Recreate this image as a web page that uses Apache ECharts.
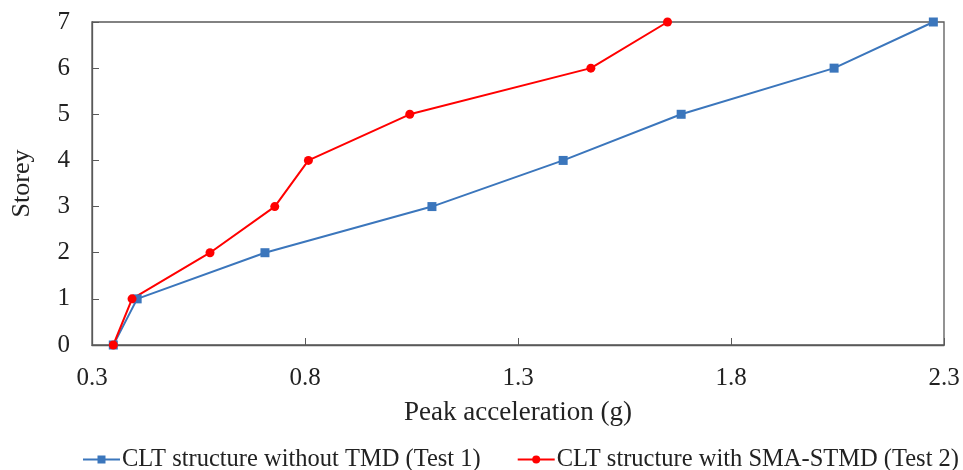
<!DOCTYPE html>
<html><head><meta charset="utf-8">
<script src="https://cdn.jsdelivr.net/npm/echarts@6/dist/echarts.min.js"></script>
<style>html,body{margin:0;padding:0;background:#fff}#c{width:963px;height:470px}</style>
</head><body><div id="c"></div>
<script>
const storeys = [0, 1, 2, 3, 4, 5, 6, 7];
const test1 = [0.35, 0.406, 0.706, 1.098, 1.406, 1.683, 2.042, 2.275];
const test2 = [0.35, 0.394, 0.577, 0.729, 0.808, 1.046, 1.471, 1.651];
const xTicks = [0.3, 0.8, 1.3, 1.8, 2.3];
const names = ['CLT structure without TMD (Test 1)', 'CLT structure with SMA-STMD (Test 2)'];

const font = 'Liberation Serif';
const axisColor = '#595959';
const chart = echarts.init(document.getElementById('c'));
chart.setOption({
  animation: false,
  grid: { left: 92, right: 19, top: 22, bottom: 125, show: true, borderColor: axisColor, borderWidth: 1.3, backgroundColor: 'transparent' },
  legend: {
    top: 447, left: 82, itemGap: 36, itemWidth: 37, itemHeight: 10, padding: 0,
    textStyle: { fontFamily: font, fontSize: 24.5, color: '#222', padding: [0, 0, 0, -3] },
    data: names
  },
  xAxis: {
    type: 'value', min: 0.3, max: 2.3,
    name: 'Peak acceleration (g)', nameLocation: 'middle', nameGap: 54,
    nameTextStyle: { fontFamily: font, fontSize: 27, color: '#222' },
    axisLine: { show: true, lineStyle: { color: axisColor, width: 1.3 } },
    axisTick: { show: true, inside: true, length: 7, lineStyle: { color: axisColor }, customValues: xTicks },
    axisLabel: { fontFamily: font, fontSize: 25, color: '#222', margin: 21, customValues: xTicks, formatter: v => v.toFixed(1) },
    splitLine: { show: false }
  },
  yAxis: {
    type: 'value', min: 0, max: 7, interval: 1,
    name: 'Storey', nameLocation: 'middle', nameGap: 57,
    nameTextStyle: { fontFamily: font, fontSize: 26, color: '#222' },
    axisLine: { show: true, lineStyle: { color: axisColor, width: 1.3 } },
    axisTick: { show: true, inside: true, length: 7, lineStyle: { color: axisColor } },
    axisLabel: { fontFamily: font, fontSize: 25, color: '#222', margin: 22 },
    splitLine: { show: false }
  },
  series: [
    { name: names[0], type: 'line', data: test1.map((v, i) => [v, storeys[i]]),
      symbol: 'rect', symbolSize: 9, lineStyle: { color: '#3B76BC', width: 2 }, itemStyle: { color: '#3B76BC' } },
    { name: names[1], type: 'line', data: test2.map((v, i) => [v, storeys[i]]),
      symbol: 'circle', symbolSize: 9, lineStyle: { color: '#FF0000', width: 2 }, itemStyle: { color: '#FF0000' } }
  ]
});
</script></body></html>
